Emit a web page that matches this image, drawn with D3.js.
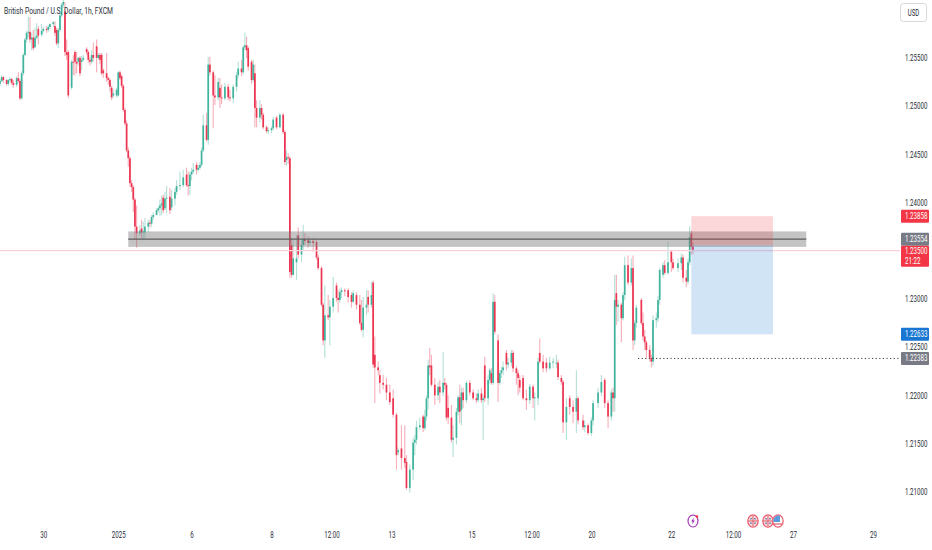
<!DOCTYPE html>
<html>
<head>
<meta charset="utf-8">
<script src="https://cdnjs.cloudflare.com/ajax/libs/d3/7.8.5/d3.min.js"></script>
<style>
  html, body { margin: 0; padding: 0; background: #fff; overflow: hidden; }
  text { font-family: Roboto, "Liberation Sans", sans-serif; fill: #2a2e39; }
</style>
</head>
<body>
<div id="chart"></div>
<script>
// hourly bars, bar number counted from the left edge of the picture
const bars = [0,1,2,4,5,6,7,8,10,11,
  12,13,14,15,16,17,18,19,20,21,
  22,23,25,26,28,29,30,32,33,34,
  35,36,37,38,39,40,41,43,44,45,
  46,47,48,49,50,52,53,54,55,56,
  58,59,60,61,62,64,65,66,67,68,
  70,71,72,73,74,75,76,77,78,79,
  80,81,82,84,85,86,87,89,90,91,
  92,94,95,96,97,98,99,100,102,103,
  105,106,108,110,112,113,114,115,116,118,
  119,120,121,122,124,125,126,128,129,131,
  132,133,135,137,138,140,142,143,145,146,
  147,148,149,151,152,153,154,156,157,158,
  160,161,163,164,166,168,170,171,172,173,
  174,175,176,178,179,181,182,183,185,186,
  188,190,191,193,194,195,197,198,200,202,
  203,204,205,207,209,211,212,214,216,217,
  218,220,221,223,224,225,227,228,230,232,
  234,236,238,239,241,243,244,246,248,249,
  250,252,254,255,256,257,258,259,261,263,
  264,266,267,268,269,271,272,274,275,276,
  277,278,280,282,284,286,287,289,290,291,
  293,294,295,296,297,299,300,301,302,304,
  305,307,308,310,311,312,314,316,318,320,
  321,323,324,326,328,330,332,334,335,337,
  338,340,342,344,346,347,350,351,353,355,
  356,359,361,363,365,367,368,369,370,371,
  373,374,375,377,379,380,381,382,385,386,
  387,388,390,391,392,394,395,396,398,399,
  401,403,404,407,409,410,412,413,414,415,
  416];

// prices in 1/10000 of a dollar
const opens = [12523,12526,12530,12527,12523,12527,12528,12524,12522,12529,
  12526,12508,12534,12553,12569,12576,12577,12569,12571,12561,
  12571,12580,12574,12578,12580,12579,12582,12585,12583,12579,
  12565,12579,12594,12605,12598,12556,12556,12519,12546,12556,
  12546,12546,12550,12546,12548,12559,12556,12548,12546,12553,
  12562,12550,12553,12553,12537,12534,12529,12527,12519,12511,
  12511,12511,12535,12531,12521,12496,12482,12454,12446,12420,
  12416,12403,12375,12368,12373,12369,12369,12375,12379,12378,
  12385,12387,12392,12394,12397,12405,12394,12404,12406,12395,
  12404,12411,12417,12418,12429,12418,12417,12429,12432,12439,
  12434,12436,12439,12454,12480,12465,12543,12535,12511,12509,
  12519,12509,12508,12520,12509,12508,12520,12532,12539,12535,
  12561,12563,12560,12546,12527,12534,12498,12488,12498,12491,
  12478,12474,12475,12477,12488,12478,12491,12473,12444,12447,
  12446,12356,12325,12338,12366,12346,12356,12362,12361,12358,
  12360,12359,12343,12332,12294,12257,12283,12281,12292,12314,
  12301,12299,12307,12309,12309,12304,12297,12304,12294,12275,
  12268,12291,12302,12294,12317,12242,12229,12221,12213,12211,
  12203,12197,12180,12141,12145,12135,12131,12104,12123,12151,
  12154,12167,12178,12166,12178,12197,12231,12231,12211,12200,
  12209,12203,12213,12211,12187,12177,12154,12156,12183,12198,
  12185,12203,12195,12213,12203,12197,12195,12202,12195,12231,
  12197,12216,12223,12213,12297,12257,12213,12223,12226,12244,
  12232,12234,12244,12228,12223,12216,12218,12197,12195,12209,
  12197,12197,12244,12235,12234,12228,12234,12234,12234,12218,
  12214,12172,12197,12188,12183,12197,12174,12167,12169,12161,
  12174,12192,12203,12216,12192,12178,12203,12197,12306,12292,
  12294,12280,12304,12335,12317,12332,12257,12275,12299,12275,
  12261,12255,12247,12239,12235,12278,12280,12299,12325,12335,
  12327,12349,12338,12332,12337,12343,12322,12318,12338,12368,
  12354];

const closes = [12526,12530,12527,12523,12527,12528,12524,12522,12529,12526,
  12508,12534,12553,12569,12576,12577,12569,12571,12560,12571,
  12573,12573,12578,12580,12579,12582,12585,12587,12576,12565,
  12579,12594,12605,12608,12556,12553,12511,12546,12545,12546,
  12544,12550,12534,12548,12550,12556,12548,12546,12553,12550,
  12550,12553,12548,12534,12534,12529,12527,12520,12509,12513,
  12517,12535,12529,12521,12496,12482,12454,12446,12420,12416,
  12403,12375,12368,12371,12369,12370,12375,12379,12378,12385,
  12387,12392,12394,12397,12399,12392,12404,12405,12392,12404,
  12411,12417,12418,12426,12418,12417,12429,12432,12434,12434,
  12436,12439,12454,12480,12465,12543,12535,12511,12509,12525,
  12509,12508,12520,12509,12508,12520,12532,12539,12535,12561,
  12563,12558,12541,12527,12543,12498,12488,12498,12491,12478,
  12474,12475,12477,12486,12478,12491,12473,12442,12447,12446,
  12328,12325,12342,12342,12346,12356,12362,12360,12358,12360,
  12358,12343,12332,12294,12257,12283,12281,12292,12301,12301,
  12299,12307,12309,12308,12302,12297,12306,12294,12275,12268,
  12291,12294,12294,12304,12232,12229,12226,12213,12211,12203,
  12193,12180,12138,12143,12135,12130,12104,12123,12151,12154,
  12167,12169,12166,12178,12197,12231,12229,12211,12200,12209,
  12203,12213,12211,12177,12177,12154,12156,12183,12198,12183,
  12203,12195,12213,12203,12197,12195,12202,12195,12197,12197,
  12216,12226,12213,12297,12266,12213,12223,12226,12229,12232,
  12234,12244,12228,12223,12218,12208,12197,12195,12209,12197,
  12198,12235,12235,12228,12228,12234,12235,12234,12219,12214,
  12172,12188,12188,12183,12197,12174,12167,12169,12161,12174,
  12192,12203,12214,12192,12178,12203,12197,12299,12292,12294,
  12280,12304,12335,12317,12332,12257,12275,12291,12275,12261,
  12255,12247,12239,12235,12278,12280,12299,12330,12335,12327,
  12338,12338,12332,12337,12343,12322,12318,12338,12364,12354,
  12351];

const highs = [12528,12532,12531,12528,12528,12530,12529,12527,12531,12535,
  12528,12536,12555,12571,12578,12593,12592,12576,12579,12581,
  12586,12583,12585,12582,12583,12584,12586,12588,12588,12581,
  12581,12597,12607,12610,12608,12569,12558,12548,12553,12558,
  12556,12551,12552,12552,12553,12561,12558,12550,12558,12566,
  12569,12555,12555,12555,12539,12555,12531,12529,12521,12517,
  12519,12536,12537,12533,12523,12498,12485,12457,12448,12423,
  12418,12405,12397,12377,12382,12380,12384,12382,12382,12387,
  12390,12394,12396,12403,12407,12408,12411,12417,12415,12413,
  12415,12423,12432,12434,12436,12432,12432,12436,12441,12442,
  12439,12442,12457,12491,12493,12551,12551,12537,12532,12529,
  12529,12522,12524,12523,12517,12522,12535,12546,12548,12563,
  12576,12572,12562,12548,12548,12543,12506,12506,12502,12493,
  12480,12478,12479,12489,12490,12493,12493,12475,12454,12451,
  12448,12363,12361,12366,12374,12361,12377,12368,12365,12363,
  12363,12361,12346,12334,12296,12314,12304,12299,12323,12317,
  12309,12311,12312,12311,12311,12307,12309,12307,12304,12299,
  12302,12309,12309,12318,12319,12261,12235,12226,12221,12218,
  12211,12206,12182,12146,12169,12169,12138,12128,12156,12159,
  12174,12177,12180,12185,12200,12237,12249,12242,12218,12214,
  12216,12245,12218,12213,12200,12190,12169,12187,12200,12211,
  12208,12208,12215,12216,12206,12202,12206,12208,12200,12240,
  12221,12228,12228,12306,12304,12263,12226,12230,12235,12247,
  12239,12247,12247,12230,12226,12221,12221,12206,12212,12211,
  12203,12239,12259,12242,12239,12240,12239,12242,12237,12221,
  12216,12197,12200,12195,12226,12199,12180,12174,12171,12177,
  12195,12208,12221,12218,12195,12206,12208,12325,12325,12299,
  12296,12307,12344,12345,12342,12345,12278,12294,12301,12286,
  12268,12257,12252,12242,12283,12286,12303,12332,12338,12340,
  12359,12351,12342,12342,12347,12346,12330,12342,12375,12371,
  12359];

const lows = [12521,12525,12524,12521,12521,12525,12522,12519,12520,12524,
  12506,12507,12532,12552,12566,12571,12566,12558,12558,12560,
  12569,12564,12572,12576,12576,12577,12580,12582,12573,12563,
  12560,12577,12592,12602,12552,12548,12508,12517,12532,12532,
  12534,12542,12531,12537,12546,12553,12545,12542,12544,12546,
  12535,12548,12544,12532,12529,12525,12522,12515,12506,12508,
  12509,12510,12527,12519,12494,12480,12452,12437,12416,12411,
  12390,12361,12353,12365,12363,12361,12363,12369,12374,12375,
  12382,12387,12390,12386,12387,12389,12392,12389,12388,12392,
  12397,12408,12413,12416,12416,12407,12408,12423,12430,12429,
  12432,12434,12437,12452,12463,12460,12532,12477,12501,12506,
  12498,12502,12506,12506,12505,12503,12515,12529,12531,12533,
  12558,12550,12537,12523,12525,12478,12478,12483,12486,12476,
  12472,12471,12472,12475,12476,12477,12471,12439,12438,12440,
  12322,12322,12324,12320,12342,12338,12351,12356,12353,12355,
  12349,12341,12330,12292,12252,12239,12278,12252,12286,12297,
  12286,12296,12301,12303,12296,12291,12296,12289,12273,12266,
  12260,12283,12286,12291,12228,12192,12221,12202,12206,12195,
  12190,12177,12123,12138,12123,12125,12102,12099,12112,12138,
  12149,12164,12162,12164,12174,12185,12221,12209,12190,12195,
  12192,12199,12206,12174,12170,12151,12136,12149,12179,12171,
  12169,12187,12192,12200,12195,12192,12193,12192,12154,12193,
  12190,12212,12211,12211,12263,12193,12211,12218,12221,12226,
  12228,12230,12224,12211,12200,12203,12195,12185,12191,12187,
  12174,12190,12233,12224,12224,12226,12228,12228,12216,12211,
  12161,12154,12180,12171,12161,12170,12164,12162,12159,12158,
  12169,12187,12199,12187,12166,12174,12183,12183,12273,12276,
  12255,12278,12299,12314,12314,12247,12252,12270,12273,12257,
  12247,12239,12235,12229,12231,12270,12276,12294,12322,12325,
  12325,12328,12330,12328,12330,12317,12312,12315,12335,12346,
  12346];

// axis labels
const priceTicks = [1.255, 1.25, 1.245, 1.24, 1.235, 1.23, 1.225, 1.22, 1.215, 1.21];
const timeBars = [26, 71, 115, 163, 199, 235, 283, 319, 355, 403, 440, 476, 524];
const timeLabels = ["30", "2025", "6", "8", "12:00", "13", "15", "12:00", "20", "22", "12:00", "27", "29"];

// drawn levels
const zoneBars = [77, 484];
const zonePrices = [1.2370, 1.2354];
const zoneLine = 1.2362;
const lastPrice = 1.2350;
const positionBars = [415, 464];
const entryPrice = 1.23554;
const stopPrice = 1.23858;
const targetPrice = 1.22633;
const lowLevel = 1.22383;
const lowLevelBar = 383;

// right-hand price tags
const tagPrices = [1.23858, 1.2362, 1.2350, 1.22633, 1.22383];
const tagTexts = ["1.23858", "1.23554", "1.23500", "1.22633", "1.22383"];
const tagColors = ["#f23645", "#787b86", "#f23645", "#1976d2", "#787b86"];

// events along the bottom of the chart
const ideaBar = 416;
const ukEventBars = [452, 461];
const usEventBars = [467];

const width = 932, height = 550, plotRight = 900;

// the reference picture is squeezed sideways, so its text runs narrower than the font
const squeeze = 0.72;
function narrow(sel) {
  sel.each(function() {
    const tx = this.getAttribute("x") || 0, ty = this.getAttribute("y") || 0;
    this.removeAttribute("x");
    this.removeAttribute("y");
    this.setAttribute("transform", "translate(" + tx + "," + ty + ") scale(" + squeeze + ",1)");
  });
}

const svg = d3.select("#chart").append("svg")
  .attr("width", width)
  .attr("height", height);

const x = d3.scaleLinear().domain([0, 416]).range([0, 693]);
const y = d3.scaleLinear().domain([1.261, 1.21]).range([0, 491.8]);

const defs = svg.append("defs");
defs.append("clipPath").attr("id", "plot")
  .append("rect").attr("width", plotRight).attr("height", 512);
defs.append("filter").attr("id", "soft")
  .attr("x", "-1%").attr("y", "-1%").attr("width", "102%").attr("height", "102%")
  .append("feGaussianBlur").attr("stdDeviation", 0.35);

const candles = bars.map((b, i) => ({
  bar: b,
  open: opens[i] / 10000,
  close: closes[i] / 10000,
  high: highs[i] / 10000,
  low: lows[i] / 10000
}));
const upColor = "#3fb39c", downColor = "#ec3450";
const color = d => d.close >= d.open ? upColor : downColor;

const plot = svg.append("g").attr("clip-path", "url(#plot)");
const marks = plot.append("g").attr("filter", "url(#soft)");

marks.selectAll(".wick").data(candles).enter().append("line")
  .attr("class", "wick")
  .attr("x1", d => x(d.bar)).attr("x2", d => x(d.bar))
  .attr("y1", d => y(d.high)).attr("y2", d => y(d.low))
  .attr("stroke", color)
  .attr("stroke-opacity", 0.4)
  .attr("stroke-width", 1.1);

marks.selectAll(".body").data(candles).enter().append("rect")
  .attr("class", "body")
  .attr("x", d => x(d.bar) - 0.85)
  .attr("width", 1.7)
  .attr("y", d => Math.min(y(d.open), y(d.close)))
  .attr("height", d => Math.max(1, Math.abs(y(d.open) - y(d.close))))
  .attr("fill", color);

// last price line
plot.append("line")
  .attr("x1", 0).attr("x2", plotRight)
  .attr("y1", y(lastPrice)).attr("y2", y(lastPrice))
  .attr("stroke", "#fbd0d6").attr("stroke-width", 1.2);

// support / resistance zone
plot.append("rect")
  .attr("x", x(zoneBars[0])).attr("width", x(zoneBars[1]) - x(zoneBars[0]))
  .attr("y", y(zonePrices[0])).attr("height", y(zonePrices[1]) - y(zonePrices[0]))
  .attr("fill", "#787878").attr("fill-opacity", 0.44);
plot.append("line")
  .attr("x1", x(zoneBars[0])).attr("x2", x(zoneBars[1]))
  .attr("y1", y(zoneLine)).attr("y2", y(zoneLine))
  .attr("stroke", "#5c5c5c").attr("stroke-width", 1.4);

// short position box
plot.append("rect")
  .attr("x", x(positionBars[0])).attr("width", x(positionBars[1]) - x(positionBars[0]))
  .attr("y", y(stopPrice)).attr("height", y(entryPrice) - y(stopPrice))
  .attr("fill", "#f23645").attr("fill-opacity", 0.2);
plot.append("rect")
  .attr("x", x(positionBars[0])).attr("width", x(positionBars[1]) - x(positionBars[0]))
  .attr("y", y(entryPrice)).attr("height", y(targetPrice) - y(entryPrice))
  .attr("fill", "#1976d2").attr("fill-opacity", 0.2);

// dotted low level
plot.append("line")
  .attr("x1", x(lowLevelBar)).attr("x2", plotRight)
  .attr("y1", y(lowLevel)).attr("y2", y(lowLevel))
  .attr("stroke", "#3c3c3c").attr("stroke-width", 1)
  .attr("stroke-dasharray", "1.2,2.4");

// title
svg.append("text")
  .attr("x", 4).attr("y", 14)
  .style("font-size", "9.4px")
  .text("British Pound / U.S. Dollar, 1h, FXCM")
  .call(narrow);

// price axis
const yAxis = d3.axisRight(y).tickValues(priceTicks).tickFormat(d3.format(".5f")).tickSize(0).tickPadding(0);
const yG = svg.append("g").attr("transform", "translate(905,0)").call(yAxis);
yG.select(".domain").remove();
yG.selectAll("text").style("font-size", "8.6px").style("font-family", "Roboto, sans-serif").attr("fill", "#2a2e39").call(narrow);

// time axis
const xAxis = d3.axisBottom(x).tickValues(timeBars).tickFormat((d, i) => timeLabels[i]).tickSize(0).tickPadding(0);
const xG = svg.append("g").attr("transform", "translate(0,532)").call(xAxis);
xG.select(".domain").remove();
xG.selectAll("text").style("font-size", "8.6px").style("font-family", "Roboto, sans-serif").attr("fill", "#2a2e39").call(narrow);

// currency button
svg.append("rect")
  .attr("x", 900.5).attr("y", 3.5).attr("width", 26).attr("height", 18).attr("rx", 3)
  .attr("fill", "#fff").attr("stroke", "#d6d8de");
svg.append("text")
  .attr("x", 913.5).attr("y", 15.5)
  .attr("text-anchor", "middle")
  .style("font-size", "8.4px")
  .text("USD")
  .call(narrow);

// price tags
const tags = svg.append("g").selectAll("g").data(tagPrices).enter().append("g")
  .attr("transform", d => "translate(901," + y(d) + ")");
tags.append("rect")
  .attr("y", (d, i) => i == 2 ? -5 : -6.5)
  .attr("width", 28)
  .attr("height", (d, i) => i == 2 ? 21 : 13)
  .attr("rx", 1)
  .attr("fill", (d, i) => tagColors[i]);
tags.append("text")
  .attr("x", 4).attr("y", (d, i) => i == 2 ? 3.3 : 3)
  .style("font-size", "8.6px")
  .style("fill", "#fff")
  .text((d, i) => tagTexts[i])
  .call(narrow);
svg.append("text")
  .attr("x", 905).attr("y", y(lastPrice) + 13)
  .style("font-size", "8.6px")
  .style("fill", "#fff")
  .text("21:22")
  .call(narrow);

// bottom event icons
const eventY = 521;
const idea = svg.append("g").attr("transform", "translate(" + x(ideaBar) + "," + eventY + ")");
idea.append("ellipse").attr("rx", 5).attr("ry", 6).attr("fill", "#fff").attr("stroke", "#9c27b0").attr("stroke-width", 1.1);
idea.append("path").attr("d", "M1,-3.6 L-1.8,0.6 L-0.2,0.6 L-1,3.6 L1.8,-0.6 L0.2,-0.6 Z").attr("fill", "#9c27b0");
idea.append("circle").attr("cx", 4).attr("cy", -4.4).attr("r", 1.3).attr("fill", "#f23645");

const ukEvents = svg.append("g").selectAll("g").data(ukEventBars).enter().append("g")
  .attr("transform", d => "translate(" + x(d) + "," + eventY + ")");
ukEvents.append("ellipse").attr("rx", 5.2).attr("ry", 6.2).attr("fill", "#f6dcdc").attr("stroke", "#ec5a6e").attr("stroke-width", 1.2);
ukEvents.append("path").attr("d", "M-5,0 H5 M0,-5 V5").attr("stroke", "#e2606e").attr("stroke-width", 1);
ukEvents.append("path").attr("d", "M-3,-3 h2 v1.5 h-2 Z M1,-3 h2 v1.5 h-2 Z M-3,1.5 h2 v1.5 h-2 Z M1,1.5 h2 v1.5 h-2 Z").attr("fill", "#8a93b8");

const usEvents = svg.append("g").selectAll("g").data(usEventBars).enter().append("g")
  .attr("transform", d => "translate(" + x(d) + "," + eventY + ")");
usEvents.append("ellipse").attr("rx", 5.2).attr("ry", 6.2).attr("fill", "#fff").attr("stroke", "#ec5a6e").attr("stroke-width", 1.2);
usEvents.append("path").attr("d", "M-4.6,1 A5,6 0 0 1 2,-5.2 L2,1 Z").attr("fill", "#5a9bdc");
usEvents.append("path").attr("d", "M-4,3 H4").attr("stroke", "#e2606e").attr("stroke-width", 1.2);
</script>
</body>
</html>
